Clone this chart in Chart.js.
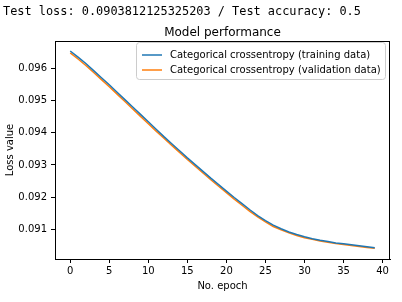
<!DOCTYPE html>
<html>
<head>
<meta charset="utf-8">
<script src="https://cdn.jsdelivr.net/npm/chart.js@4.4.0/dist/chart.umd.min.js"></script>
<style>
  body { margin: 0; background: #fff; }
  #wrap { width: 402px; height: 302px; }
</style>
</head>
<body>
<div id="wrap"><canvas id="lossChart" width="402" height="302"></canvas></div>
<script>
// epochs 0..39
const epochs = [0,1,2,3,4,5,6,7,8,9,10,11,12,13,14,15,16,17,18,19,
                20,21,22,23,24,25,26,27,28,29,30,31,32,33,34,35,36,37,38,39];

const trainLoss = [0.09654,0.09635,0.09615,0.09593,0.09571,0.09549,0.09526,0.09503,0.09480,0.09457,
                   0.09434,0.09411,0.09388,0.09366,0.09344,0.09322,0.09301,0.09280,0.09259,0.09239,
                   0.09219,0.09199,0.09180,0.09161,0.09143,0.09127,0.09113,0.09102,0.09092,0.09084,
                   0.09077,0.09071,0.09066,0.09062,0.09058,0.09055,0.09052,0.09049,0.09046,0.09043];

const valLoss = [0.09648,0.09629,0.09609,0.09587,0.09565,0.09543,0.09520,0.09497,0.09474,0.09451,
                 0.09428,0.09405,0.09383,0.09361,0.09339,0.09317,0.09296,0.09275,0.09254,0.09234,
                 0.09214,0.09194,0.09175,0.09156,0.09139,0.09123,0.09109,0.09099,0.09089,0.09081,
                 0.09074,0.09069,0.09064,0.09060,0.09056,0.09053,0.09050,0.09047,0.09044,0.09041];

const xTicks = [0,5,10,15,20,25,30,35,40];
const yTicks = [0.091,0.092,0.093,0.094,0.095,0.096];

const headerText = 'Test loss: 0.0903812125325203 / Test accuracy: 0.5';
const titleText = 'Model performance';

const BLUE = '#1f77b4';
const ORANGE = '#ff7f0e';

const mplStyle = {
  id: 'mplStyle',
  afterDraw(chart) {
    const ctx = chart.ctx;
    const a = chart.chartArea;
    ctx.save();

    // top / right spines
    ctx.strokeStyle = '#000';
    ctx.lineWidth = 1;
    ctx.beginPath();
    ctx.moveTo(a.left, a.top + 0.5);
    ctx.lineTo(a.right, a.top + 0.5);
    ctx.moveTo(a.right - 0.5, a.top);
    ctx.lineTo(a.right - 0.5, a.bottom);
    ctx.stroke();

    // header line printed above the figure
    ctx.fillStyle = '#000';
    ctx.font = '11.9px "DejaVu Sans Mono"';
    ctx.textAlign = 'left';
    ctx.textBaseline = 'alphabetic';
    ctx.fillText(headerText, 3, 15);

    // title
    const cx = (a.left + a.right) / 2;
    ctx.font = '12px "DejaVu Sans"';
    ctx.textAlign = 'center';
    ctx.fillText(titleText, cx, 36);

    // axis labels
    ctx.font = '10px "DejaVu Sans"';
    ctx.fillText('No. epoch', cx, 289);
    ctx.save();
    ctx.translate(13, (a.top + a.bottom) / 2);
    ctx.rotate(-Math.PI / 2);
    ctx.fillText('Loss value', 0, 0);
    ctx.restore();

    // legend
    const lx = 136, ly = 42, lw = 249, lh = 37, r = 3;
    ctx.fillStyle = 'rgba(255,255,255,0.8)';
    ctx.strokeStyle = '#cccccc';
    ctx.lineWidth = 1;
    ctx.beginPath();
    ctx.roundRect(lx + 0.5, ly + 0.5, lw, lh, r);
    ctx.fill();
    ctx.stroke();

    ctx.textAlign = 'left';
    ctx.textBaseline = 'middle';
    chart.data.datasets.forEach((ds, i) => {
      const y = 55 + i * 15;
      ctx.strokeStyle = ds.borderColor;
      ctx.lineWidth = 1.5;
      ctx.beginPath();
      ctx.moveTo(142, y);
      ctx.lineTo(162, y);
      ctx.stroke();
      ctx.fillStyle = '#000';
      ctx.fillText(ds.label, 170, y);
    });

    ctx.restore();
  }
};

new Chart(document.getElementById('lossChart').getContext('2d'), {
  type: 'line',
  data: {
    datasets: [
      {
        label: 'Categorical crossentropy (training data)',
        data: epochs.map((e, i) => ({x: e, y: trainLoss[i]})),
        borderColor: BLUE,
        borderWidth: 1.5,
        pointRadius: 0,
        tension: 0,
        fill: false
      },
      {
        label: 'Categorical crossentropy (validation data)',
        data: epochs.map((e, i) => ({x: e, y: valLoss[i]})),
        borderColor: ORANGE,
        borderWidth: 1.5,
        pointRadius: 0,
        tension: 0,
        fill: false
      }
    ]
  },
  options: {
    responsive: false,
    animation: false,
    layout: { padding: { top: 41, right: 12, left: 0, bottom: 0 } },
    plugins: {
      legend: { display: false },
      title: { display: false },
      tooltip: { enabled: false }
    },
    scales: {
      x: {
        type: 'linear',
        min: -1.95,
        max: 40.95,
        afterBuildTicks: (scale) => { scale.ticks = xTicks.map(v => ({value: v})); },
        afterFit: (scale) => { scale.height = 43; },
        grid: { drawOnChartArea: false, drawTicks: true, tickLength: 4, color: '#000' },
        border: { display: true, color: '#000', width: 1 },
        ticks: {
          padding: 2,
          color: '#000',
          maxRotation: 0,
          font: { family: 'DejaVu Sans', size: 10 },
          callback: (v) => String(v)
        }
      },
      y: {
        type: 'linear',
        min: 0.09008,
        max: 0.09685,
        afterBuildTicks: (scale) => { scale.ticks = yTicks.map(v => ({value: v})); },
        afterFit: (scale) => { scale.width = 55; },
        grid: { drawOnChartArea: false, drawTicks: true, tickLength: 4, color: '#000' },
        border: { display: true, color: '#000', width: 1 },
        ticks: {
          padding: 4,
          color: '#000',
          font: { family: 'DejaVu Sans', size: 10 },
          callback: (v) => Number(v).toFixed(3)
        }
      }
    }
  },
  plugins: [mplStyle]
});
</script>
</body>
</html>
